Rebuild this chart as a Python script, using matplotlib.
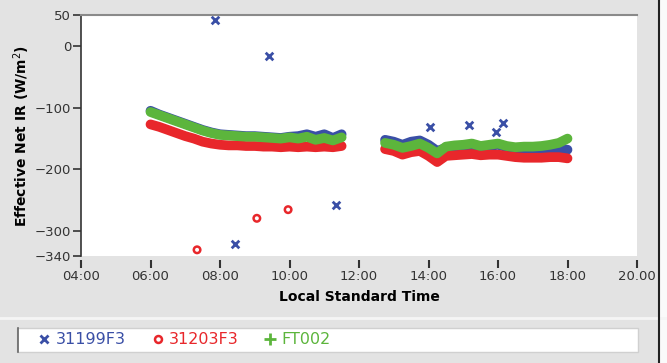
import numpy as np
import matplotlib.pyplot as plt
from matplotlib.lines import Line2D
from matplotlib.patches import Rectangle

# hours (local standard time) for the two continuous runs
hrs_am = [6.0, 6.25, 6.5, 6.75, 7.0, 7.25, 7.5, 7.75, 8.0, 8.25, 8.5, 8.75,
          9.0, 9.25, 9.5, 9.75, 10.0, 10.25, 10.5, 10.75, 11.0, 11.25, 11.5]
hrs_pm = [12.75, 13.0, 13.25, 13.5, 13.75, 14.0, 14.25, 14.5, 14.75, 15.0, 15.25,
          15.5, 15.75, 16.0, 16.25, 16.5, 16.75, 17.0, 17.25, 17.5, 17.75, 18.0]

blue_am = [-105, -111, -116, -121, -126, -131, -136, -140, -143, -144, -145, -146,
           -146, -147, -148, -149, -147, -146, -143, -147, -143, -149, -143]
red_am = [-127, -131, -136, -141, -146, -150, -155, -158, -160, -161, -161, -162,
          -162, -163, -163, -164, -163, -164, -163, -164, -163, -164, -162]
green_am = [-107, -112, -117, -122, -127, -132, -137, -141, -144, -145, -146, -147,
            -147, -148, -149, -150, -148, -150, -147, -152, -149, -153, -148]

blue_pm = [-152, -155, -160, -155, -153, -160, -170, -165, -163, -162, -161,
           -163, -162, -160, -164, -167, -168, -168, -168, -167, -166, -168]
red_pm = [-167, -170, -176, -172, -170, -178, -188, -178, -177, -176, -175,
          -177, -176, -176, -178, -180, -181, -181, -181, -180, -180, -182]
green_pm = [-157, -160, -165, -162, -158, -165, -174, -163, -161, -160, -158,
            -162, -160, -158, -162, -164, -163, -163, -162, -160, -157, -150]

# isolated readings
blue_x = [7.86, 9.41, 11.34, 8.43, 14.04, 15.17, 15.94, 16.14]
blue_y = [42, -16, -258, -321, -132, -128, -140, -125]
red_x = [7.34, 9.06, 9.96]
red_y = [-330, -279, -265]

xticks = [4, 6, 8, 10, 12, 14, 16, 18, 20]
xlabels = ['04:00', '06:00', '08:00', '10:00', '12:00', '14:00', '16:00', '18:00', '20.00']
yticks = [50, 0, -100, -200, -300, -340]

c_blue = '#3a4fa6'
c_red = '#e8272b'
c_green = '#5cb53c'

W, H = 667, 363
fig = plt.figure(figsize=(W / 100, H / 100), dpi=100)
fig.patch.set_facecolor('#e3e3e3')

ax = fig.add_axes([81 / W, 1 - 256 / H, 556 / W, 241 / H])
ax.set_facecolor('white')

for xs, ys, c in [(hrs_am, blue_am, c_blue), (hrs_pm, blue_pm, c_blue),
                  (hrs_am, red_am, c_red), (hrs_pm, red_pm, c_red),
                  (hrs_am, green_am, c_green), (hrs_pm, green_pm, c_green)]:
    ax.plot(xs, ys, color=c, lw=7, solid_capstyle='round', solid_joinstyle='round')

ax.scatter(blue_x, blue_y, marker='x', s=30, color=c_blue, linewidths=2)
ax.scatter(red_x, red_y, marker='o', s=22, facecolors='none', edgecolors=c_red, linewidths=1.8)

ax.set_xlim(4, 20)
ax.set_ylim(-340, 50)
ax.set_xticks(xticks)
ax.set_xticklabels(xlabels)
ax.set_yticks(yticks)
ax.set_yticklabels([str(v).replace('-', '\u2212') for v in yticks])

for s in ['right', 'bottom']:
    ax.spines[s].set_visible(False)
ax.spines['top'].set_color('#8a8a8a')
ax.spines['top'].set_linewidth(1.5)
ax.spines['left'].set_color('#333333')
ax.spines['left'].set_linewidth(1.2)
ax.spines['bottom'].set_position(('outward', 3))
ax.tick_params(axis='x', length=6, width=1.5, color='#333333', pad=1,
               labelsize=9.5, labelcolor='#333333')
ax.tick_params(axis='y', length=6, width=1.2, color='#333333', pad=1,
               labelsize=9.5, labelcolor='#333333')

ax.set_xlabel('Local Standard Time', fontsize=10, fontweight='bold', labelpad=5)
ax.set_ylabel('Effective Net IR (W/m$^2$)', fontsize=10, fontweight='bold', labelpad=2)

# frame lines and legend strip
fig.add_artist(Line2D([0, 1], [1 - 318 / H] * 2, color='#f5f5f5', lw=2))
fig.add_artist(Line2D([659 / W] * 2, [0, 1], color='#222222', lw=1.5))
fig.add_artist(Rectangle((659.8 / W, 0), 8 / W, 1, color='#fafafa', transform=fig.transFigure))
fig.add_artist(Rectangle((17 / W, 1 - 352 / H), 621 / W, 24 / H, facecolor='white',
                         edgecolor='#d0d0d0', lw=1, transform=fig.transFigure))
fig.add_artist(Line2D([18 / W] * 2, [1 - 352 / H, 1 - 328 / H], color='#666666', lw=1.2))

handles = [Line2D([], [], ls='none', marker='x', color=c_blue, ms=6, mew=2),
           Line2D([], [], ls='none', marker='o', mfc='none', mec=c_red, ms=5, mew=1.8),
           Line2D([], [], ls='none', marker='+', color=c_green, ms=8, mew=2)]
leg = fig.legend(handles, ['31199F3', '31203F3', 'FT002'], loc='center left',
                 bbox_to_anchor=(38 / W, 1 - 340 / H), ncol=3, frameon=False,
                 fontsize=11.5, handlelength=0.8, handletextpad=0.3, columnspacing=1.6,
                 borderpad=0, borderaxespad=0)
for t, c in zip(leg.get_texts(), [c_blue, c_red, c_green]):
    t.set_color(c)

fig.savefig('out.png', dpi=100, facecolor=fig.get_facecolor())
